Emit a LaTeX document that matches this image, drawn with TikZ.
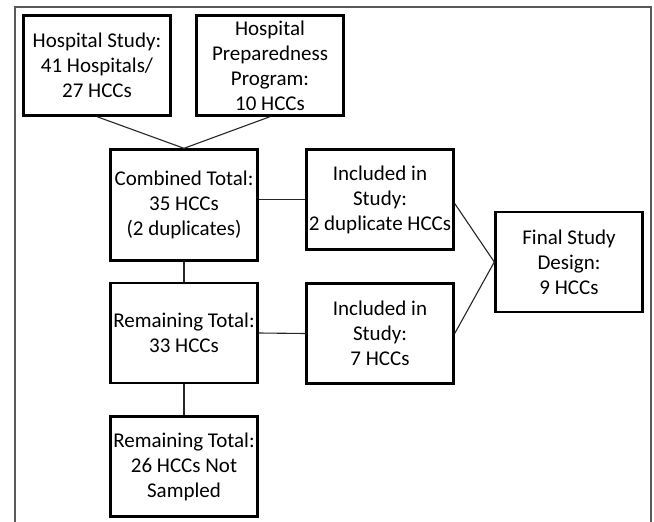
\documentclass[tikz,border=0pt]{standalone}
\usepackage{fontspec}
\setmainfont{Carlito}
\usetikzlibrary{positioning}

\begin{document}
\begin{tikzpicture}[
    x=1pt, y=-1pt,
    box/.style={rectangle, draw, line width=2.4pt, minimum width=147pt, minimum height=100pt, align=center, inner sep=1pt, font=\fontsize{21}{25}\selectfont},
    link/.style={line width=1.1pt, draw=black!85},
    frame/.style={line width=1.6pt, draw=black!65},
]
\useasboundingbox (0,0) rectangle (654,522);

\draw[frame] (15,522) -- (15,7) -- (651,7) -- (651,522);

\node[box] (hospital) at (97, 65.5) {Hospital Study:\\41 Hospitals/\\27 HCCs};
\node[box] (hpp) at (270, 65.5) {Hospital\\Preparedness\\Program:\\10 HCCs};

\node[box, minimum height=111pt] (combined) at (184, 205) {Combined Total:\\35 HCCs\\(2 duplicates)};
\node[box] (remaining) at (184, 333) {Remaining Total:\\33 HCCs};
\node[box] (notsampled) at (184, 466.5) {Remaining Total:\\26 HCCs Not\\Sampled};

\node[box] (dupes) at (380, 199.5) {Included in\\Study:\\2 duplicate HCCs};
\node[box] (included) at (380, 333.5) {Included in\\Study:\\7 HCCs};

\node[box] (final) at (569, 262) {Final Study\\Design:\\9 HCCs};

\draw[link] (hospital.south) -- (combined.north);
\draw[link] (hpp.south) -- (combined.north);
\draw[link] (combined.south) -- (remaining.north);
\draw[link] (remaining.south) -- (notsampled.north);
\draw[link] (dupes.west -| combined.east) -- (dupes.west);
\draw[link] (remaining.east) -- (included.west);
\draw[link] ([yshift=-4pt]dupes.east) -- (final.west);
\draw[link] (included.east) -- (final.west);

\end{tikzpicture}
\end{document}
